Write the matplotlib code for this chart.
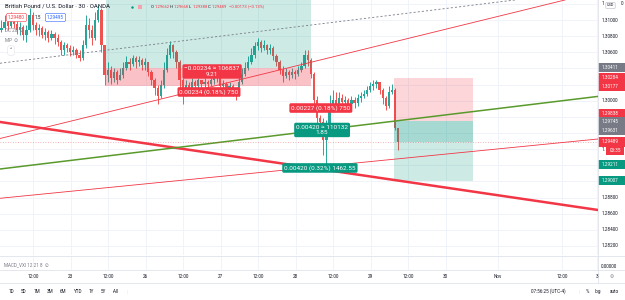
import matplotlib
matplotlib.use('Agg')
import matplotlib.pyplot as plt
from matplotlib.patches import Rectangle
from matplotlib.lines import Line2D
from matplotlib.transforms import blended_transform_factory
import numpy as np

W, H = 625, 300
plt.rcParams['font.family'] = ['Roboto', 'DejaVu Sans']

UP = '#26a69a'
DOWN = '#ef5350'
RED = '#f23645'
TEAL = '#089981'
GREY = '#787b86'
INK = '#131722'
GRID = '#f0f3fa'
EDGE = '#e0e3eb'
GREEN = '#5a9a2c'

# ---- GBPUSD candles (hourly resolution) ----
first_open = 1.30877
closes = [1.30902, 1.30976, 1.30927, 1.31001, 1.30952, 1.30877, 1.30914, 1.30815, 1.30877, 1.31063,
          1.30939, 1.30877, 1.30902, 1.30815, 1.30852, 1.30778, 1.30828, 1.30778, 1.30728, 1.30629,
          1.30691, 1.30654, 1.30605, 1.30629, 1.30567, 1.30530, 1.30691, 1.30939, 1.30877, 1.30778,
          1.31001, 1.31125, 1.30691, 1.30319, 1.30381, 1.30282, 1.30357, 1.30258, 1.30319, 1.30406,
          1.30481, 1.30456, 1.30530, 1.30481, 1.30505, 1.30443, 1.30481, 1.30357, 1.30258, 1.30158,
          1.30059, 1.30196, 1.30381, 1.30567, 1.30691, 1.30605, 1.30481, 1.30258, 1.30109, 1.30196,
          1.30158, 1.30233, 1.30183, 1.30258, 1.30208, 1.30233, 1.30208, 1.30258, 1.30282, 1.30307,
          1.30183, 1.30208, 1.30158, 1.30183, 1.30109, 1.30072, 1.30233, 1.30332, 1.30406, 1.30481,
          1.30567, 1.30679, 1.30728, 1.30654, 1.30691, 1.30629, 1.30654, 1.30555, 1.30481, 1.30381,
          1.30307, 1.30357, 1.30319, 1.30357, 1.30332, 1.30381, 1.30431, 1.30567, 1.30505, 1.30332,
          1.30010, 1.29786, 1.29737, 1.29514, 1.29638, 1.29910, 1.30010, 1.29960, 1.30034, 1.29985,
          1.30010, 1.29960, 1.30010, 1.29972, 1.30034, 1.30059, 1.30084, 1.30134, 1.30183, 1.30208,
          1.30233, 1.30134, 1.30034, 1.29935, 1.30109, 1.30134, 1.29662, 1.29489]
highs = [1.31001, 1.31063, 1.31026, 1.31100, 1.31051, 1.31001, 1.30976, 1.30939, 1.30939, 1.31150,
         1.31100, 1.30976, 1.30952, 1.30927, 1.30902, 1.30877, 1.30877, 1.30852, 1.30828, 1.30753,
         1.30728, 1.30716, 1.30691, 1.30679, 1.30654, 1.30629, 1.30753, 1.31063, 1.31026, 1.30939,
         1.31100, 1.31187, 1.31150, 1.30691, 1.30481, 1.30431, 1.30406, 1.30381, 1.30406, 1.30481,
         1.30555, 1.30530, 1.30567, 1.30555, 1.30555, 1.30530, 1.30530, 1.30481, 1.30381, 1.30282,
         1.30196, 1.30258, 1.30481, 1.30654, 1.30741, 1.30704, 1.30629, 1.30505, 1.30282, 1.30258,
         1.30233, 1.30282, 1.30258, 1.30282, 1.30258, 1.30282, 1.30258, 1.30295, 1.30319, 1.30332,
         1.30319, 1.30258, 1.30233, 1.30233, 1.30208, 1.30158, 1.30319, 1.30406, 1.30481, 1.30555,
         1.30654, 1.30728, 1.30778, 1.30753, 1.30753, 1.30704, 1.30704, 1.30679, 1.30580, 1.30505,
         1.30431, 1.30406, 1.30381, 1.30406, 1.30381, 1.30431, 1.30481, 1.30629, 1.30629, 1.30530,
         1.30357, 1.30059, 1.29824, 1.29786, 1.29762, 1.30072, 1.30134, 1.30109, 1.30109, 1.30084,
         1.30059, 1.30034, 1.30059, 1.30047, 1.30084, 1.30109, 1.30134, 1.30183, 1.30233, 1.30258,
         1.30258, 1.30233, 1.30158, 1.30059, 1.30183, 1.30208, 1.30158, 1.29668]
lows = [1.30852, 1.30877, 1.30877, 1.30902, 1.30902, 1.30828, 1.30815, 1.30753, 1.30728, 1.30852,
        1.30877, 1.30815, 1.30803, 1.30778, 1.30753, 1.30728, 1.30753, 1.30704, 1.30679, 1.30567,
        1.30567, 1.30605, 1.30555, 1.30567, 1.30530, 1.30493, 1.30505, 1.30654, 1.30778, 1.30691,
        1.30753, 1.30976, 1.30605, 1.30196, 1.30233, 1.30208, 1.30233, 1.30208, 1.30258, 1.30282,
        1.30381, 1.30381, 1.30431, 1.30406, 1.30431, 1.30381, 1.30381, 1.30307, 1.30196, 1.30072,
        1.29960, 1.30034, 1.30158, 1.30357, 1.30530, 1.30530, 1.30406, 1.30072, 1.29960, 1.30059,
        1.30109, 1.30134, 1.30134, 1.30158, 1.30158, 1.30171, 1.30158, 1.30183, 1.30208, 1.30233,
        1.30134, 1.30134, 1.30109, 1.30109, 1.30059, 1.30010, 1.30059, 1.30208, 1.30307, 1.30381,
        1.30456, 1.30530, 1.30629, 1.30605, 1.30629, 1.30580, 1.30580, 1.30505, 1.30431, 1.30332,
        1.30233, 1.30282, 1.30258, 1.30282, 1.30270, 1.30307, 1.30357, 1.30406, 1.30431, 1.30282,
        1.29960, 1.29712, 1.29687, 1.29328, 1.29204, 1.29576, 1.29861, 1.29910, 1.29935, 1.29910,
        1.29935, 1.29886, 1.29935, 1.29910, 1.29935, 1.29985, 1.30034, 1.30059, 1.30109, 1.30134,
        1.30158, 1.30084, 1.29960, 1.29886, 1.29910, 1.30084, 1.29638, 1.29388]

# price scale
price_ticks = [1.282, 1.284, 1.286, 1.288, 1.290, 1.292, 1.294, 1.296, 1.298,
               1.300, 1.302, 1.304, 1.306, 1.308, 1.310, 1.312]
marker_prices = [1.30411, 1.30284, 1.30177, 1.29838, 1.29745, 1.29631, 1.29489, 1.29211, 1.29007]
marker_colors = [GREY, RED, RED, RED, GREY, GREY, RED, TEAL, TEAL]

# time scale
time_labels = ['12:00', '23', '12:00', '26', '12:00', '27', '12:00', '28', '12:00',
               '29', '12:00', '30', 'Nov', '12:00', '3']
time_pos = [10.2, 22.2, 34.2, 46.2, 58.2, 70.2, 82.2, 94.2, 106.2,
            118.2, 130.2, 142.2, 158.9, 179.4, 190.6]

# position tools: long (entry, stop) and short (stop, entry, target)
long_entry, long_stop = 1.30411, 1.30177
short_stop, short_entry, short_target = 1.30284, 1.29745, 1.29007
last_price = 1.29489


def fx(px):
    return px / W


def fy(py):
    return 1 - py / H


FS = 3.3
TAG_FS = 4.6
MAIN_B = 255
YLIM = (1.28088, 1.31249)
XLIM = (-0.48, 190.9)

fig = plt.figure(figsize=(W / 100, H / 100), dpi=100)
fig.patch.set_facecolor('white')

ax = fig.add_axes([0, fy(MAIN_B), fx(598), MAIN_B / H])
ax.set_xlim(*XLIM)
ax.set_ylim(*YLIM)
ax.axis('off')
for p in price_ticks:
    ax.axhline(p, color=GRID, lw=0.7, zorder=0)
for t in time_pos:
    ax.axvline(t, color=GRID, lw=0.7, zorder=0)

# candles
o = np.array([first_open] + closes[:-1])
c = np.array(closes)
x = np.arange(len(c))
col = np.where(c >= o, UP, DOWN)
ax.vlines(x, lows, highs, colors=col, lw=0.7, zorder=3)
body = np.where(np.abs(c - o) < 0.00005, 0.00005, c - o)
ax.bar(x, body, bottom=o, width=0.72, color=col, lw=0, zorder=3)

# position boxes
def zone(x0, x1, p0, p1, color, alpha):
    ax.add_patch(Rectangle((x0, p0), x1 - x0, p1 - p0, fc=color, alpha=alpha, lw=0, zorder=4))

zone(33.4, 98.9, long_entry, 1.32, TEAL, 0.2)
zone(33.4, 98.9, long_stop, long_entry, RED, 0.2)
zone(33.4, 98.9, long_stop, long_entry, RED, 0.12)
zone(125.6, 150.9, short_entry, short_stop, RED, 0.2)
zone(125.6, 150.9, short_target, short_entry, TEAL, 0.2)
zone(125.6, 150.9, last_price, short_entry, TEAL, 0.2)

# trend lines
ax.axline((-0.48, 1.30465), (164.3, 1.31249), color=GREY, lw=0.6, ls=(0, (2.5, 2.5)), zorder=5)
ax.axline((-0.48, 1.29532), (180.3, 1.31249), color=RED, lw=0.6, zorder=5)
ax.axline((-0.48, 1.28791), (190.9, 1.29526), color=RED, lw=0.6, zorder=5)
ax.axline((-0.48, 1.29737), (190.9, 1.28646), color=RED, lw=1.8, zorder=5)
ax.axline((-0.48, 1.29154), (190.9, 1.30054), color=GREEN, lw=1.1, zorder=5)
ax.axhline(last_price, color=RED, lw=0.6, alpha=0.5, ls=(0, (1, 2)), zorder=5)

# position labels
def tag(xd, yd, s, color):
    ax.text(xd, yd, s, ha='center', va='center', fontsize=TAG_FS, color='white', zorder=7,
            linespacing=1.15,
            bbox=dict(boxstyle='round,pad=0.3,rounding_size=0.25', fc=color, ec='none'))

tag(67.4, 1.30363, '\u22120.00234 \u2248 106837\n9.21', RED)
tag(66.4, 1.30109, '0.00234 (0.18%) 750', RED)
tag(102.2, 1.29910, '0.00227 (0.18%) 750', RED)
tag(102.6, 1.29638, '0.00420 \u2248 110132\n1.85', TEAL)
tag(101.9, 1.29167, '0.00420 (0.32%) 1462.55', TEAL)

# MACD pane
axm = fig.add_axes([0, fy(270), fx(598), 14 / H])
axm.set_xlim(*XLIM)
axm.axis('off')
for t in time_pos:
    axm.axvline(t, color=GRID, lw=0.7, zorder=0)
fig.text(fx(4), fy(265), 'MACD_VXI 12 21 8  \u2299', fontsize=FS, color=GREY, va='center')

# price axis
axr = fig.add_axes([fx(598), fy(MAIN_B), fx(27), MAIN_B / H])
axr.set_xlim(0, 1)
axr.set_ylim(*YLIM)
axr.axis('off')
hh = 4.6 / 8068
cd = last_price - 8.5 / 8068
for p in price_ticks:
    if min(abs(p - m) for m in marker_prices) <= 0.0008:
        continue
    if p > 1.3115:
        # covered by the currency badge
        axr.text(0.12, p, '1', fontsize=FS, color=INK, va='center', ha='left')
        axr.text(0.86, p, '0', fontsize=FS, color=INK, va='center', ha='left')
    elif abs(p - cd) < 0.0004:
        # covered by the bar countdown
        axr.text(0.12, p, '1.', fontsize=FS, color=INK, va='center', ha='left')
    else:
        axr.text(0.12, p, f'{p:.5f}', fontsize=FS, color=INK, va='center', ha='left')
for p, colr in zip(marker_prices, marker_colors):
    axr.add_patch(Rectangle((0, p - hh), 1, 2 * hh, fc=colr, lw=0, zorder=3))
    axr.text(0.12, p, f'{p:.5f}', fontsize=FS, color='white', va='center', ha='left', zorder=4)
axr.add_patch(Rectangle((0.3, cd - hh), 0.68, 2 * hh, fc=RED, lw=0, zorder=3))
axr.text(0.64, cd, '03:35', fontsize=FS, color='white', va='center', ha='center', zorder=4)
fig.text(fx(610.5), fy(5.5), 'USD', fontsize=FS * 0.85, color=INK, ha='center', va='center',
         bbox=dict(boxstyle='round,pad=0.25', fc='white', ec='#b2b5be', lw=0.4))
fig.text(fx(601), fy(266), '0.00000', fontsize=FS, color=INK, va='center')

# separators
for (x0, y0, x1, y1) in [(598, 0, 598, 283), (0, 255.5, 625, 255.5), (0, 270, 625, 270),
                         (0, 283, 625, 283)]:
    fig.add_artist(Line2D([fx(x0), fx(x1)], [fy(y0), fy(y1)], color=EDGE, lw=0.6))

# time axis labels
tt = blended_transform_factory(ax.transData, fig.transFigure)
for t, lab in zip(time_pos, time_labels):
    fig.text(t, fy(276.5), lab, transform=tt, fontsize=FS, color=INK, ha='center', va='center')
fig.text(fx(612), fy(276.5), '\u2699', fontsize=FS, color=GREY, ha='center', va='center')

# bottom toolbar
for px, lab in [(11, '1D'), (24, '5D'), (37, '1M'), (50, '3M'), (63, '6M'), (77, 'YTD'),
                (91, '1Y'), (103, '5Y'), (116, 'All')]:
    fig.text(fx(px), fy(291.5), lab, fontsize=FS, color=INK, ha='center', va='center')
fig.text(fx(127), fy(291.5), '|', fontsize=FS, color=EDGE, ha='center', va='center')
fig.text(fx(548), fy(291.5), '07:56:25 (UTC-4)', fontsize=FS, color=INK, ha='center', va='center')
fig.text(fx(579), fy(291.5), '|', fontsize=FS, color=EDGE, ha='center', va='center')
for px, lab in [(587, '%'), (598, 'log'), (614, 'auto')]:
    fig.text(fx(px), fy(291.5), lab, fontsize=FS, color=INK, ha='center', va='center')

# header
fig.text(fx(5), fy(6.5), 'British Pound / U.S. Dollar \u00b7 30 \u00b7 OANDA', fontsize=4.3,
         color=INK, va='center')
fig.add_artist(Line2D([fx(132)], [fy(6.5)], marker='o', ms=1.8, color=TEAL, mew=0))
fig.add_artist(Line2D([fx(140)], [fy(6.5)], marker='s', ms=2.4, color='#f7a1a8', mew=0))
for px, lab, colr in [(151, 'O', INK), (155, '1.29662', RED), (170, 'H', INK), (174, '1.29668', RED),
                      (189, 'L', INK), (192.5, '1.29388', RED), (208, 'C', INK), (212, '1.29489', RED),
                      (229, '\u22120.00173 (\u22120.13%)', RED)]:
    fig.text(fx(px), fy(6.5), lab, fontsize=3.0, color=colr, va='center')
fig.text(fx(16.5), fy(17.5), '1.29480', fontsize=FS, color=RED, ha='center', va='center',
         bbox=dict(boxstyle='round,pad=0.35', fc='white', ec=RED, lw=0.4))
fig.text(fx(37.5), fy(17.5), '1.5', fontsize=FS, color=INK, ha='center', va='center')
fig.text(fx(55.5), fy(17.5), '1.29495', fontsize=FS, color='#2962ff', ha='center', va='center',
         bbox=dict(boxstyle='round,pad=0.35', fc='white', ec='#2962ff', lw=0.4))
fig.text(fx(5), fy(30), 'DC 20  \u2299', fontsize=FS, color=GREY, va='center')
fig.text(fx(5), fy(40), 'MP  \u2299', fontsize=FS, color=GREY, va='center')
fig.text(fx(11), fy(50.5), '\u02c4', fontsize=FS, color=INK, ha='center', va='center',
         bbox=dict(boxstyle='round,pad=0.5', fc='white', ec=EDGE, lw=0.4))

fig.savefig('out.png', dpi=100, facecolor='white')
